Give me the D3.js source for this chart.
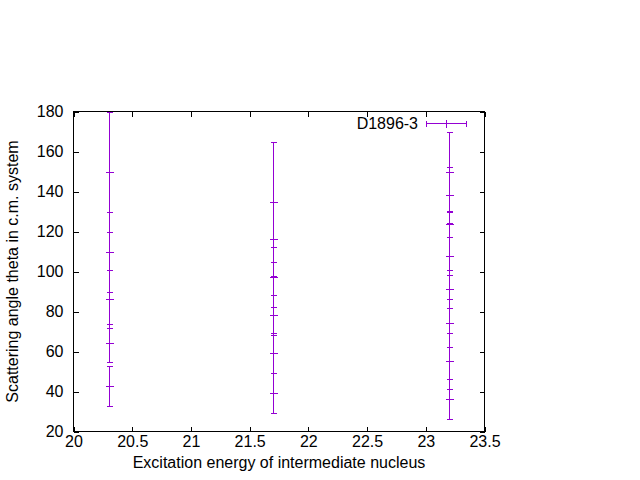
<!DOCTYPE html>
<html>
<head>
<meta charset="utf-8">
<script src="https://cdn.jsdelivr.net/npm/d3@7"></script>
<style>
  html, body { margin: 0; padding: 0; background: #fff; }
  svg { display: block; font-family: "Liberation Sans", Arial, sans-serif; }
</style>
</head>
<body>
<svg id="chart" width="640" height="480"></svg>
<script>
// ---- data ----
const energy     = [20.3, 20.3, 20.3, 20.3, 20.3,
                    21.7, 21.7, 21.7, 21.7, 21.7, 21.7,
                    23.2, 23.2, 23.2, 23.2, 23.2, 23.2, 23.2, 23.2];
const angle      = [150, 110, 86.4, 64.5, 42.9,
                    135, 116.4, 97.4, 78.4, 59.4, 39.4,
                    150, 138.4, 123.9, 107.9, 91.4, 74.4, 55.4, 36.4];
const angleError = [30, 20, 14.5, 9.5, 10,
                    30, 18.5, 15, 10, 10, 10,
                    20, 14, 6.5, 9.5, 9.5, 12, 14, 10];
const xTicks = [20, 20.5, 21, 21.5, 22, 22.5, 23, 23.5];
const yTicks = [20, 40, 60, 80, 100, 120, 140, 160, 180];
const seriesName = "D1896-3";
const xTitle = "Excitation energy of intermediate nucleus";
const yTitle = "Scattering angle theta in c.m. system";

// ---- layout ----
const W = 640, H = 480;
const L = 73.5, R = 484.5, T = 111.5, B = 431.5;
const color = "#9400d3";
const tickLen = 5;

const svg = d3.select("#chart");
const x = d3.scaleLinear().domain([20, 23.5]).range([L, R]);
const y = d3.scaleLinear().domain([20, 180]).range([B, T]);

const fmt = d => String(d);

// axes (ticks inward, mirrored)
const gx = svg.append("g").attr("transform", `translate(0,${B})`)
  .call(d3.axisBottom(x).tickValues(xTicks).tickFormat(fmt).tickSizeInner(-tickLen).tickSizeOuter(0).tickPadding(4));
const gx2 = svg.append("g").attr("transform", `translate(0,${T})`)
  .call(d3.axisTop(x).tickValues(xTicks).tickFormat("").tickSizeInner(-tickLen).tickSizeOuter(0));
const gy = svg.append("g").attr("transform", `translate(${L},0)`)
  .call(d3.axisLeft(y).tickValues(yTicks).tickFormat(fmt).tickSizeInner(-tickLen).tickSizeOuter(0).tickPadding(10));
const gy2 = svg.append("g").attr("transform", `translate(${R},0)`)
  .call(d3.axisRight(y).tickValues(yTicks).tickFormat("").tickSizeInner(-tickLen).tickSizeOuter(0));

[gx, gx2, gy, gy2].forEach(g => {
  g.select(".domain").remove();
  g.selectAll("line").attr("stroke", "#000").attr("shape-rendering", "crispEdges");
  g.selectAll("text").attr("font-size", 16).attr("fill", "#000")
    .attr("font-family", "Liberation Sans, Arial, sans-serif");
});
// hide end ticks overlapping the border ends (still fine to keep)

// clip for data
svg.append("clipPath").attr("id", "plotclip")
  .append("rect").attr("x", L - 5).attr("y", T).attr("width", R - L + 10).attr("height", B - T);

const data = energy.map((e, i) => ({ e, a: angle[i], err: angleError[i] }));
const gData = svg.append("g").attr("clip-path", "url(#plotclip)")
  .attr("stroke", color).attr("stroke-width", 1).attr("fill", "none")
  .attr("shape-rendering", "crispEdges");

const capW = 2.5, plusW = 3.5;
const px = v => Math.round(x(v)) + 0.5;
const py = v => Math.round(y(v)) + 0.5;

data.forEach(d => {
  const cx = px(d.e);
  const yLo = py(Math.max(20, d.a - d.err));
  const yHi = py(Math.min(180, d.a + d.err));
  gData.append("line").attr("x1", cx).attr("x2", cx).attr("y1", yLo).attr("y2", yHi);
  // caps
  [d.a - d.err, d.a + d.err].forEach(v => {
    if (v >= 20 && v <= 180) {
      gData.append("line").attr("x1", cx - capW).attr("x2", cx + capW + 1)
        .attr("y1", py(v)).attr("y2", py(v));
    }
  });
  // point marker (+)
  const cy = py(d.a);
  gData.append("line").attr("x1", cx - plusW).attr("x2", cx + plusW + 1).attr("y1", cy).attr("y2", cy);
  gData.append("line").attr("x1", cx).attr("x2", cx).attr("y1", cy - plusW).attr("y2", cy + plusW + 1);
});

// border
svg.append("rect").attr("x", L).attr("y", T).attr("width", R - L).attr("height", B - T)
  .attr("fill", "none").attr("stroke", "#000").attr("stroke-width", 1)
  .attr("shape-rendering", "crispEdges");

// legend
const lg = svg.append("g");
lg.append("text").attr("x", 418).attr("y", 128.5).attr("text-anchor", "end")
  .attr("font-size", 16).attr("fill", "#000").text(seriesName);
const ly = 123.5, lx1 = 426.5, lx2 = 466.5, lxm = 446.5;
const lgl = lg.append("g").attr("stroke", color).attr("stroke-width", 1).attr("shape-rendering", "crispEdges");
lgl.append("line").attr("x1", lx1).attr("x2", lx2).attr("y1", ly).attr("y2", ly);
lgl.append("line").attr("x1", lx1).attr("x2", lx1).attr("y1", ly - capW).attr("y2", ly + capW + 1);
lgl.append("line").attr("x1", lx2).attr("x2", lx2).attr("y1", ly - capW).attr("y2", ly + capW + 1);
lgl.append("line").attr("x1", lxm).attr("x2", lxm).attr("y1", ly - plusW).attr("y2", ly + plusW + 1);

// axis titles
svg.append("text").attr("x", (L + R) / 2).attr("y", 468).attr("text-anchor", "middle")
  .attr("font-size", 16).attr("fill", "#000").text(xTitle);
svg.append("text").attr("transform", `translate(18,${(T + B) / 2}) rotate(-90)`)
  .attr("text-anchor", "middle").attr("font-size", 16).attr("fill", "#000").text(yTitle);
</script>
</body>
</html>
